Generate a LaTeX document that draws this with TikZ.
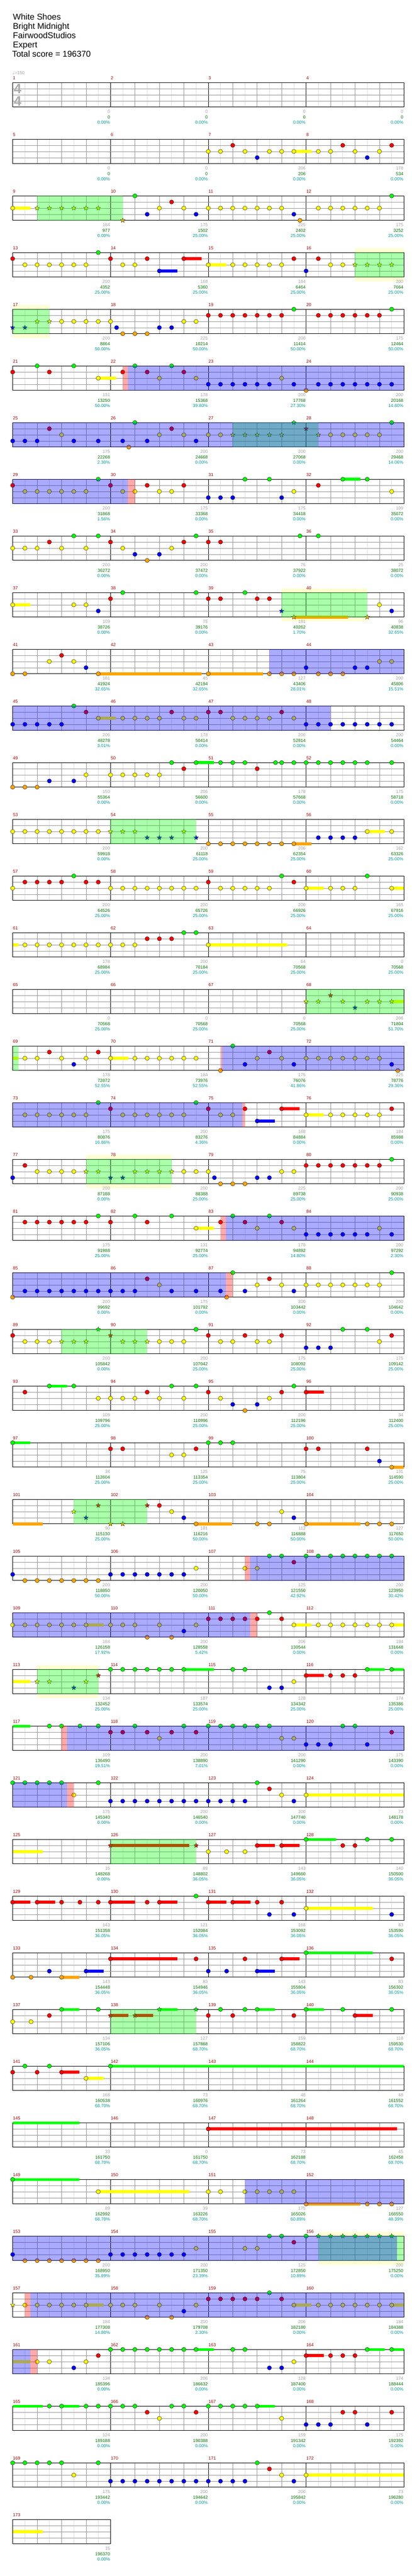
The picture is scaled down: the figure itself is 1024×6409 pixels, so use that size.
\documentclass[tikz,border=0pt]{standalone}
\usepackage{fontspec}
\setmainfont{Liberation Sans}
\newfontfamily\symfont{DejaVu Sans}
\usetikzlibrary{shapes.geometric}

\definecolor{gemG}{RGB}{0,255,0}
\definecolor{gemR}{RGB}{255,0,0}
\definecolor{gemY}{RGB}{255,255,0}
\definecolor{gemB}{RGB}{0,0,255}
\definecolor{gemO}{RGB}{255,165,0}
\colorlet{lane0}{gemG}
\colorlet{lane1}{gemR}
\colorlet{lane2}{gemY}
\colorlet{lane3}{gemB}
\colorlet{lane4}{gemO}
\definecolor{barred}{RGB}{153,0,0}
\definecolor{ptgray}{RGB}{160,160,160}
\definecolor{ptgreen}{RGB}{0,110,0}
\definecolor{ptteal}{RGB}{0,150,150}
\definecolor{gridmid}{RGB}{150,150,150}
\definecolor{gridlight}{RGB}{222,222,222}
\definecolor{paleyellow}{RGB}{255,255,210}

\pgfdeclarelayer{back}
\pgfdeclarelayer{phrase}
\pgfdeclarelayer{spact}
\pgfsetlayers{back,main,phrase,spact}

\tikzset{
  gemnote/.style={circle, draw=black, line width=0.5pt, minimum size=10.5pt, inner sep=0pt},
  gemstar/.style={star, star points=5, star point ratio=2.3, draw=black, line width=0.4pt, minimum size=12pt, inner sep=0pt},
  laneline/.style={gridmid, line width=0.9pt},
  beatline/.style={gridmid, line width=0.8pt},
  halfline/.style={gridlight, line width=0.8pt},
  barline/.style={black, line width=0.8pt},
  staffline/.style={black, line width=1.2pt},
  barnum/.style={text=barred, font=\fontsize{11}{11}\selectfont, inner sep=0pt, anchor=base west},
  ptsbar/.style={text=ptgray, font=\fontsize{11}{11}\selectfont, inner sep=0pt, anchor=base east},
  ptstotal/.style={text=ptgreen, font=\fontsize{11}{11}\selectfont, inner sep=0pt, anchor=base east},
  ptspct/.style={text=ptteal, font=\fontsize{11}{11}\selectfont, inner sep=0pt, anchor=base east},
  titleline/.style={font=\fontsize{21}{21}\selectfont, inner sep=0pt, anchor=base west},
  phrasebox/.style={fill=gemG, fill opacity=0.333},
  activebox/.style={fill=gemB, fill opacity=0.333},
  pinkbox/.style={fill=gemR, fill opacity=0.333},
  paleband/.style={fill=paleyellow}
}

% staff of one row: #1 row, #2 number of measures
\newcommand{\chStaff}[2]{%
  \pgfmathsetmacro\ry{205.3+141*(#1-1)}%
  \pgfmathsetmacro\rx{31.5+243.1*#2}%
  \pgfmathtruncatemacro\nq{8*#2-1}%
  \foreach \p in {1,...,\nq}{%
    \pgfmathtruncatemacro\kind{mod(\p,8)==0 ? 2 : (mod(\p,2)==0 ? 1 : 0)}%
    \ifcase\kind
      \draw[halfline] ({31.5+30.39*\p},\ry) -- ({31.5+30.39*\p},{\ry+61});
    \or
      \draw[beatline] ({31.5+30.39*\p},\ry) -- ({31.5+30.39*\p},{\ry+61});
    \or
      \draw[barline] ({31.5+30.39*\p},\ry) -- ({31.5+30.39*\p},{\ry+61});
    \fi
  }%
  \foreach \l in {1,2,3}{\draw[laneline] (31.5,{\ry+15.25*\l}) -- (\rx,{\ry+15.25*\l});}%
  \draw[staffline] (31.5,\ry) rectangle (\rx,{\ry+61});
  \foreach \m in {1,...,#2}{%
    \pgfmathtruncatemacro\mn{4*(#1-1)+\m}%
    \node[barnum] (bar\mn) at ({31.5+243.1*(\m-1)+0.5},{\ry-7.3}) {\mn};
  }%
}
% plain gems: #1 row, #2 lane, #3 positions in eighths
\newcommand{\chGems}[3]{%
  \pgfmathsetmacro\ry{205.3+141*(#1-1)}%
  \foreach \p in {#3}{%
    \pgfmathtruncatemacro\pp{10*\p}%
    \node[gemnote, fill=lane#2] (g#1-#2-\pp) at ({31.5+30.39*\p},{\ry+15.25*#2}) {};
  }%
}
% star gems
\newcommand{\chStars}[3]{%
  \pgfmathsetmacro\ry{205.3+141*(#1-1)}%
  \foreach \p in {#3}{%
    \pgfmathtruncatemacro\pp{10*\p}%
    \node[gemstar, fill=lane#2] (s#1-#2-\pp) at ({31.5+30.39*\p},{\ry+15.25*#2}) {};
  }%
}
% sustain bars: from/to
\newcommand{\chSus}[3]{%
  \pgfmathsetmacro\ry{205.3+141*(#1-1)}%
  \foreach \a/\b in {#3}{%
    \fill[lane#2] ({31.5+30.39*\a},{\ry+15.25*#2-3.5}) rectangle ({31.5+30.39*\b},{\ry+15.25*#2+3.5});
  }%
}
% star power phrase
\newcommand{\chPhrase}[3]{%
  \pgfmathsetmacro\ry{205.3+141*(#1-1)}%
  \begin{pgfonlayer}{phrase}
    \fill[phrasebox] ({31.5+30.39*#2},\ry) rectangle ({31.5+30.39*#3},{\ry+61});
  \end{pgfonlayer}%
}
\newcommand{\chPhraseY}[3]{%
  \chPhrase{#1}{#2}{#3}%
  \begin{pgfonlayer}{back}
    \fill[paleband] ({31.5+30.39*#2},{\ry-10}) rectangle ({31.5+30.39*#3},\ry);
    \fill[paleband] ({31.5+30.39*#2},{\ry+61}) rectangle ({31.5+30.39*#3},{\ry+71});
  \end{pgfonlayer}%
}
% activation
\newcommand{\chActive}[3]{%
  \pgfmathsetmacro\ry{205.3+141*(#1-1)}%
  \begin{pgfonlayer}{spact}
    \fill[activebox] ({31.5+30.39*#2},\ry) rectangle ({31.5+30.39*#3},{\ry+61});
  \end{pgfonlayer}%
}
\newcommand{\chPink}[3]{%
  \pgfmathsetmacro\ry{205.3+141*(#1-1)}%
  \begin{pgfonlayer}{spact}
    \fill[pinkbox] ({31.5+30.39*#2},\ry) rectangle ({31.5+30.39*#3},{\ry+61});
  \end{pgfonlayer}%
}
% scores under each measure
\newcommand{\chPoints}[2]{%
  \pgfmathsetmacro\ry{205.3+141*(#1-1)}%
  \foreach \a/\b/\c [count=\i] in {#2}{%
    \pgfmathtruncatemacro\mn{4*(#1-1)+\i}%
    \node[ptsbar] (ms\mn) at ({31.5+243.1*\i-1},{\ry+76.4}) {\a};
    \node[ptstotal] (tot\mn) at ({31.5+243.1*\i-1},{\ry+89.7}) {\b};
    \node[ptspct] (pct\mn) at ({31.5+243.1*\i-1},{\ry+103}) {\c\%};
  }%
}

\begin{document}
\begin{tikzpicture}[x=1pt,y=-1pt]
\useasboundingbox (0,0) rectangle (1024,6409);

% header
\node[titleline] (song) at (32,49.3) {White Shoes};
\node[titleline] (artist) at (32,72.3) {Bright Midnight};
\node[titleline] (charter) at (32,95.3) {FairwoodStudios};
\node[titleline] (level) at (32,118.3) {Expert};
\node[titleline] (total) at (30,141.3) {Total score = 196370};
\node[anchor=base west, inner sep=0pt, text=ptgray, font=\fontsize{11}{11}\selectfont] (tempo) at (31,185) {{\symfont ♩}=150};

% Row 1
\chStaff{1}{4}
\node[text=black!33, font=\fontsize{34}{34}\selectfont\bfseries, inner sep=0pt] (tsup) at (44,221) {4};
\node[text=black!33, font=\fontsize{34}{34}\selectfont\bfseries, inner sep=0pt] (tsdown) at (44,252) {4};
\chPoints{1}{0/0/0.00,0/0/0.00,0/0/0.00,0/0/0.00}

% Row 2
\chStaff{2}{4}
\chSus{2}{2}{23/24.43}
\chGems{2}{2}{16,17,19,21,22,23,25,26,28,30}
\chGems{2}{1}{18,27,31}
\chGems{2}{3}{20,29}
\chPoints{2}{0/0/0.00,0/0/0.00,206/206/0.00,178/534/0.00}

% Row 3
\chStaff{3}{4}
\chPhrase{3}{2}{9}
\chSus{3}{2}{0/1.46}
\chGems{3}{2}{0,12,14,16,17,18,19,20,21,22,25,26,27,28,29,30}
\chGems{3}{0}{10,31}
\chGems{3}{1}{13}
\chGems{3}{3}{11,15,23}
\chGems{3}{4}{23.5}
\chStars{3}{2}{2,3,4,5,6,7}
\chStars{3}{4}{9}
\chPoints{3}{184/977/0.00,175/1502/25.00,225/2402/25.00,175/3252/25.00}

% Row 4
\chStaff{4}{4}
\chPhraseY{4}{28}{32}
\chSus{4}{3}{12/13.46}
\chSus{4}{1}{14/15.46}
\chSus{4}{2}{16/17.46}
\chGems{4}{1}{0,8,11,14,23,25}
\chGems{4}{2}{1,2,3,4,5,6,9,10,16,18,19,20,21,22,26,27}
\chGems{4}{0}{7}
\chGems{4}{3}{12,24}
\chStars{4}{2}{28,29,30,31}
\chPoints{4}{200/4352/25.00,168/5360/25.00,184/6464/25.00,200/7664/25.00}

% Row 5
\chStaff{5}{4}
\chPhraseY{5}{0}{3}
\chStars{5}{3}{0,1}
\chStars{5}{2}{2,3}
\chGems{5}{2}{4,5,6,7,8,14,15}
\chGems{5}{3}{8.5,12,13}
\chGems{5}{4}{9,10,11}
\chGems{5}{1}{16,17,18,19,20,21,22,25,26,27,28,29,30}
\chGems{5}{0}{23,31}
\chPoints{5}{200/8864/50.00,225/10214/50.00,200/11414/50.00,175/12464/50.00}

% Row 6
\chStaff{6}{4}
\chPink{6}{9}{9.43}
\chActive{6}{9.43}{32}
\chSus{6}{2}{7/8.46}
\chGems{6}{1}{0,3,9,11,14}
\chGems{6}{0}{2,5,10,13}
\chGems{6}{2}{7,12,15,22}
\chGems{6}{3}{16,17,18,19,20,21,23,25,26,27,28,29,30,31}
\chGems{6}{4}{24}
\chPoints{6}{131/13250/50.00,178/15368/39.80,200/17768/27.30,200/20168/14.80}

% Row 7
\chStaff{7}{4}
\chActive{7}{0}{32}
\chPhrase{7}{18}{25}
\chGems{7}{3}{0,1,2,5,7,9,11,15}
\chGems{7}{1}{3,13}
\chGems{7}{2}{4,12,14,16,17,26,27,28,29,30}
\chGems{7}{4}{9.5}
\chGems{7}{0}{10,31}
\chStars{7}{2}{18,19,20,21,22,25}
\chStars{7}{0}{23}
\chStars{7}{1}{24}
\chPoints{7}{175/22268/2.30,200/24668/0.00,200/27068/0.00,200/29468/14.06}

% Row 8
\chStaff{8}{4}
\chActive{8}{0}{9.43}
\chPink{8}{9.43}{10}
\chSus{8}{0}{27/28.43}
\chGems{8}{1}{0,8,11,14,25}
\chGems{8}{2}{1,2,3,4,5,6,9,10,12,13,23,31}
\chGems{8}{0}{7,19,21,27,29}
\chGems{8}{3}{16,17,18,22}
\chPoints{8}{200/31868/1.56,175/33368/0.00,175/34418/0.00,109/35072/0.00}

% Row 9
\chStaff{9}{4}
\chGems{9}{2}{0,1,2,4,6,9,13}
\chGems{9}{1}{3,8,14,16,17}
\chGems{9}{0}{5,7,15,23.5,25}
\chGems{9}{3}{10,12}
\chGems{9}{4}{11}
\chPoints{9}{200/36272/0.00,200/37472/0.00,75/37922/0.00,25/38072/0.00}

% Row 10
\chStaff{10}{4}
\chPhraseY{10}{22}{29}
\chSus{10}{2}{0/1.46}
\chSus{10}{4}{23/27.43}
\chGems{10}{2}{0,5,6,30}
\chGems{10}{3}{7,31}
\chGems{10}{1}{8,16,17,20,21}
\chGems{10}{0}{9,15,19}
\chStars{10}{3}{22}
\chStars{10}{4}{23,29}
\chPoints{10}{109/38726/0.00,75/39176/0.00,181/40262/1.70,96/40838/32.65}

% Row 11
\chStaff{11}{4}
\chActive{11}{21}{32}
\chSus{11}{4}{7/15.46,16/20.46}
\chGems{11}{4}{0,1,7,16,21,22,23,25,26,27}
\chGems{11}{2}{3,5,30,31}
\chGems{11}{1}{4}
\chGems{11}{3}{6,24,28,29}
\chPoints{11}{181/41924/32.65,45/42194/32.65,127/43406/28.01,200/45806/15.51}

% Row 12
\chStaff{12}{4}
\chActive{12}{0}{26}
\chSus{12}{2}{7/8.46}
\chGems{12}{3}{0,1,2,3,4,24,25,26,27,28,29,30,31}
\chGems{12}{0}{5}
\chGems{12}{1}{6,13,16,17,22}
\chGems{12}{2}{7,9,10,11,12,14,15,18,19,20,21,23}
\chPoints{12}{206/48278/3.01,178/50414/0.00,200/52814/0.00,200/54464/0.00}

% Row 13
\chStaff{13}{4}
\chSus{13}{0}{15/16.46}
\chGems{13}{4}{0,1,2}
\chGems{13}{3}{3,5}
\chGems{13}{2}{6,8,9,10,11,12}
\chGems{13}{0}{13,15,17,18,19,21.5,22,23,24,25,26,27,28,29,31}
\chGems{13}{1}{14,20}
\chPoints{13}{150/55364/0.00,206/56600/0.00,178/57668/0.00,175/58718/0.00}

% Row 14
\chStaff{14}{4}
\chPhrase{14}{8}{15}
\chSus{14}{4}{23/24.43}
\chSus{14}{2}{29/30.43}
\chGems{14}{2}{0,1,2,3,4,5,6,7,29,31}
\chStars{14}{2}{8,9,10,14}
\chStars{14}{3}{11,12,13,15}
\chGems{14}{4}{16,17,18,19,20,21,22,23}
\chGems{14}{3}{25,26,27,28}
\chPoints{14}{200/59918/0.00,200/61118/25.00,206/62354/25.00,162/63326/25.00}

% Row 15
\chStaff{15}{4}
\chSus{15}{2}{24/25.46,31/32}
\chGems{15}{2}{0,8,9,10,11,12,13,14,15,17,18,19,20,21,24,26,27,28,31}
\chGems{15}{1}{1,2,3,4,6,7,16,23}
\chGems{15}{0}{5,22,29}
\chPoints{15}{200/64526/25.00,200/65726/25.00,200/66926/25.00,165/67916/25.00}

% Row 16
\chStaff{16}{4}
\chSus{16}{2}{0/0.48,16/22.46}
\chGems{16}{2}{1,2,3,4,5,6,7,8,9,10,16}
\chGems{16}{1}{11,12,13}
\chGems{16}{0}{14,15}
\chPoints{16}{178/68984/25.00,200/70184/25.00,64/70568/25.00,0/70568/25.00}

% Row 17
\chStaff{17}{4}
\chPhrase{17}{24}{32}
\chSus{17}{2}{31/32}
\chStars{17}{2}{24,25,27,29,30,31}
\chStars{17}{1}{26}
\chStars{17}{3}{28}
\chPoints{17}{0/70568/25.00,0/70568/25.00,0/70568/25.00,206/71804/51.70}

% Row 18
\chStaff{18}{4}
\chPhrase{18}{0}{0.48}
\chPink{18}{17}{17.15}
\chActive{18}{17.15}{32}
\chSus{18}{2}{0/0.48,8/9.46}
\chGems{18}{2}{1,2,4,6,8,10,11,12,13,14,15,20,22,24,25,26,27,28,29,30}
\chGems{18}{1}{3,7,21}
\chGems{18}{3}{5,19,23,31}
\chGems{18}{4}{17,31.5}
\chGems{18}{0}{18}
\chPoints{18}{178/72872/52.55,184/73976/52.55,175/76076/41.86,225/78776/29.36}

% Row 19
\chStaff{19}{4}
\chActive{19}{0}{18.78}
\chPink{19}{18.78}{19}
\chSus{19}{3}{20/21.46}
\chSus{19}{1}{22/23.46}
\chSus{19}{2}{24/25.46}
\chGems{19}{2}{1,2,3,4,5,6,9,10,11,12,13,14,17,18,24,26,27,28,29,30}
\chGems{19}{0}{7,15}
\chGems{19}{1}{8,16,19,22,31}
\chGems{19}{3}{20}
\chPoints{19}{175/80876/16.86,200/83276/4.36,168/84884/0.00,184/85988/0.00}

% Row 20
\chStaff{20}{4}
\chPhraseY{20}{6}{13}
\chGems{20}{3}{0,16.5,20,21}
\chGems{20}{1}{1,24,25,26,27,28,29,30}
\chGems{20}{2}{2,3,4,5,14,15,16,22,23}
\chStars{20}{2}{6,7,10,11,12,13}
\chStars{20}{3}{8,9}
\chGems{20}{4}{17,18,19}
\chGems{20}{0}{31}
\chPoints{20}{200/87188/0.00,200/88388/25.00,225/89738/25.00,200/90938/25.00}

% Row 21
\chStaff{21}{4}
\chPink{21}{17}{17.43}
\chActive{21}{17.43}{32}
\chSus{21}{2}{15/16.46}
\chGems{21}{1}{1,2,3,4,5,6,8,11,17,19,22}
\chGems{21}{0}{7,10,13,18,21}
\chGems{21}{2}{15,20,23,30}
\chGems{21}{3}{24,25,26,27,28,29,31}
\chPoints{21}{175/91988/25.00,131/92774/25.00,178/94892/14.80,200/97292/2.30}

% Row 22
\chStaff{22}{4}
\chActive{22}{0}{17.43}
\chPink{22}{17.43}{18}
\chGems{22}{4}{0,17.5}
\chGems{22}{3}{1,2,3,4,5,6,7,8,9,10,13,15,17,19,23}
\chGems{22}{1}{11,21}
\chGems{22}{2}{12,20,22,24,25,26,27,28,29,30}
\chGems{22}{0}{18,31}
\chPoints{22}{200/99692/0.00,175/101792/0.00,200/103442/0.00,200/104642/0.00}

% Row 23
\chStaff{23}{4}
\chPhrase{23}{4}{11}
\chGems{23}{1}{0,16,19,22,31}
\chGems{23}{2}{1,2,3,12,13,14,17,18,20,21,30}
\chStars{23}{2}{4,5,6,9,10,11}
\chStars{23}{0}{7}
\chStars{23}{1}{8}
\chGems{23}{0}{15,27,29}
\chGems{23}{3}{24,25,26}
\chPoints{23}{200/105842/0.00,200/107042/25.00,175/108092/25.00,175/109142/25.00}

% Row 24
\chStaff{24}{4}
\chSus{24}{0}{3/4.46}
\chSus{24}{1}{24/25.46}
\chGems{24}{1}{1,11,16,22,24}
\chGems{24}{0}{3,5,13,15,23}
\chGems{24}{2}{7,8,9,10,12,14,17,21}
\chGems{24}{3}{18,20}
\chGems{24}{4}{19}
\chPoints{24}{109/109796/25.00,200/110996/25.00,200/112196/25.00,34/112400/25.00}

% Row 25
\chStaff{25}{4}
\chSus{25}{0}{0/1.46}
\chSus{25}{4}{31/32}
\chGems{25}{0}{0,16,17,18}
\chGems{25}{1}{8,9,15,24,25,29}
\chGems{25}{2}{13,14}
\chGems{25}{3}{30}
\chGems{25}{4}{31}
\chPoints{25}{34/112604/25.00,125/113354/25.00,75/113804/25.00,131/114590/25.00}

% Row 26
\chStaff{26}{4}
\chPhrase{26}{5}{11}
\chSus{26}{4}{0/2.46,15/17.93,24/28.43}
\chStars{26}{2}{5}
\chStars{26}{3}{6}
\chStars{26}{1}{7,11}
\chStars{26}{4}{8,9}
\chGems{26}{1}{12}
\chGems{26}{2}{13,22}
\chGems{26}{3}{14,23}
\chGems{26}{4}{15,20,21,24,29,30,31}
\chPoints{26}{90/115130/25.00,181/116216/50.00,112/116888/50.00,127/117650/50.00}

% Row 27
\chStaff{27}{4}
\chPink{27}{19}{19.43}
\chActive{27}{19.43}{32}
\chGems{27}{3}{0,8,9,10,11,12,13,14}
\chGems{27}{4}{1,2,3,4,5,6,7}
\chGems{27}{2}{15,19,20}
\chGems{27}{0}{21,22,24,25,26,27,28,29,30,31}
\chGems{27}{1}{23}
\chPoints{27}{200/118850/50.00,200/120050/50.00,125/121550/42.92,200/123950/30.42}

% Row 28
\chStaff{28}{4}
\chActive{28}{0}{19.43}
\chPink{28}{19.43}{20}
\chSus{28}{2}{6/7.46,23/24.43,31/32}
\chGems{28}{2}{0,1,2,3,4,5,6,8,9,10,12,15,23,25,26,27,28,29,30,31}
\chGems{28}{4}{11,13}
\chGems{28}{3}{14}
\chGems{28}{1}{16,17,18,19,20,22}
\chGems{28}{0}{21}
\chPoints{28}{184/126158/17.92,200/128558/5.42,206/130544/0.00,184/131648/0.00}

% Row 29
\chStaff{29}{4}
\chPhraseY{29}{2}{7}
\chSus{29}{2}{0/1.46}
\chSus{29}{0}{14/16.46,29/30.43,31/32}
\chSus{29}{1}{24/25.46}
\chStars{29}{2}{2,3,6}
\chStars{29}{3}{5}
\chStars{29}{1}{7}
\chGems{29}{0}{8,9,10,11,12,13,14,18,19,29,31}
\chGems{29}{3}{21,22}
\chGems{29}{2}{23}
\chGems{29}{1}{24,26,27,28}
\chPoints{29}{134/132452/25.00,187/133574/25.00,128/134342/25.00,174/135386/25.00}

% Row 30
\chStaff{30}{4}
\chPink{30}{4}{4.46}
\chActive{30}{4.46}{32}
\chSus{30}{0}{0/1.46}
\chGems{30}{0}{3,4,5.5,7,10,14,16,17,18,19,20,21,27,28}
\chGems{30}{1}{8,9,11,13,15,31}
\chGems{30}{2}{12,22,23}
\chGems{30}{3}{24,25,26,29}
\chPoints{30}{109/136490/19.51,200/138890/7.01,200/141290/0.00,175/143390/0.00}

% Row 31
\chStaff{31}{4}
\chActive{31}{0}{4.46}
\chPink{31}{4.46}{5}
\chSus{31}{2}{24/32}
\chGems{31}{0}{0,1,2,3,4,7,20}
\chGems{31}{2}{5,22,24}
\chGems{31}{3}{8,9,10,11,12,13,14,15,16,17,18,19,23}
\chGems{31}{1}{21}
\chPoints{31}{175/145340/0.00,200/146540/0.00,200/147740/0.00,73/148178/0.00}

% Row 32
\chStaff{32}{4}
\chPhrase{32}{8}{15}
\chSus{32}{2}{0/2.46}
\chSus{32}{1}{8/14.46,20/21.46,22/23.46}
\chSus{32}{0}{24/26.46}
\chStars{32}{1}{8,15}
\chGems{32}{2}{16,17.5,19}
\chGems{32}{1}{20,22,27,28}
\chGems{32}{0}{24,29,31}
\chPoints{32}{15/148268/0.00,89/148802/36.05,143/149660/36.05,140/150500/36.05}

% Row 33
\chStaff{33}{4}
\chSus{33}{1}{0/1.46,2/3.46,8/10,12/13.46,16/17.46,18/19.46}
\chSus{33}{2}{24/29.46}
\chGems{33}{1}{0,2,4,5.5,7,8,11,12,16,18,20,22}
\chGems{33}{0}{15}
\chGems{33}{3}{21,23,31}
\chGems{33}{2}{24}
\chPoints{33}{143/151358/36.05,121/152084/36.05,168/153092/36.05,83/153590/36.05}

% Row 34
\chStaff{34}{4}
\chSus{34}{4}{4/5.46}
\chSus{34}{3}{6/7.46,20/21.46}
\chSus{34}{1}{8/13.46,22/23.46}
\chSus{34}{0}{24/29.46}
\chGems{34}{4}{0,1.5,4}
\chGems{34}{3}{3,6,16,17.5,20}
\chGems{34}{1}{8,15,19,22,31}
\chGems{34}{0}{24}
\chPoints{34}{143/154448/36.05,83/154946/36.05,143/155804/36.05,83/156302/36.05}

% Row 35
\chStaff{35}{4}
\chPhrase{35}{8}{15}
\chSus{35}{1}{8/9.48,10/11.48,28/29.46}
\chSus{35}{0}{4/5.46,12/13.46,20/21.46,24/25.46}
\chGems{35}{2}{0,1.5}
\chGems{35}{1}{3,16,18,23,28}
\chGems{35}{0}{4,7,17,19,20,24,27,31}
\chStars{35}{1}{8,10}
\chStars{35}{0}{12,15}
\chPoints{35}{134/157106/36.05,127/157868/68.70,159/158822/68.70,118/159530/68.70}

% Row 36
\chStaff{36}{4}
\chSus{36}{1}{4/5.46}
\chSus{36}{2}{6/7.46}
\chSus{36}{0}{8/32}
\chGems{36}{1}{0,2,4}
\chGems{36}{0}{1,3,8}
\chGems{36}{2}{6}
\chPoints{36}{168/160538/68.70,73/160976/68.70,48/161264/68.70,48/161552/68.70}

% Row 37
\chStaff{37}{4}
\chSus{37}{0}{0/5.46}
\chSus{37}{1}{16/31.43}
\chGems{37}{1}{16}
\chPoints{37}{33/161750/68.70,0/161750/68.70,73/162188/68.70,45/162458/68.70}

% Row 38
\chStaff{38}{4}
\chActive{38}{19}{32}
\chSus{38}{0}{0/5.46}
\chSus{38}{2}{7/14.46}
\chSus{38}{4}{24/28.43}
\chGems{38}{0}{0}
\chGems{38}{2}{7,16,17,19,20,21,22,23}
\chGems{38}{4}{24,29,30,31}
\chPoints{38}{89/162992/68.70,39/163226/68.70,175/165026/60.89,127/166550/48.39}

% Row 39
\chStaff{39}{4}
\chActive{39}{0}{31.43}
\chPhraseY{39}{25}{32}
\chGems{39}{3}{0,8,9,10,11,12,13,14}
\chGems{39}{4}{1,2,3,4,5,6,7}
\chGems{39}{2}{15,19,20}
\chGems{39}{0}{21,22,24}
\chGems{39}{1}{23}
\chStars{39}{0}{25,26,27,28,29,30,31}
\chPoints{39}{200/168950/35.89,200/171350/23.39,125/172850/10.89,200/175250/0.00}

% Row 40
\chStaff{40}{4}
\chPink{40}{1}{1.46}
\chActive{40}{1.46}{32}
\chSus{40}{2}{6/7.46,23/24.43,31/32}
\chStars{40}{2}{0}
\chGems{40}{2}{1,2,3,4,5,6,8,9,10,12,15,23,25,26,27,28,29,30,31}
\chGems{40}{4}{11,13}
\chGems{40}{3}{14}
\chGems{40}{1}{16,17,18,19,20,22}
\chGems{40}{0}{21}
\chPoints{40}{184/177308/14.80,200/179708/2.30,206/182180/0.00,184/184388/0.00}

% Row 41
\chStaff{41}{4}
\chActive{41}{0}{1.46}
\chPink{41}{1.46}{2}
\chSus{41}{2}{0/1.46}
\chSus{41}{1}{24/25.46}
\chSus{41}{0}{15/16.46,29/30.43,31/32}
\chGems{41}{2}{2,3,6,23}
\chGems{41}{3}{5,21,22}
\chGems{41}{1}{7,24,26,27,28}
\chGems{41}{0}{8,9,10,11,12,13,14,15,18,19,29,31}
\chPoints{41}{134/185396/0.00,206/186632/0.00,128/187400/0.00,174/188444/0.00}

% Row 42
\chStaff{42}{4}
\chSus{42}{0}{0/2.46,4/5.46,20/21.46}
\chGems{42}{0}{3,4,6,7,8,9,10,13,14,16,17,18,19,20}
\chGems{42}{1}{11,15,27,28,31}
\chGems{42}{2}{12,22}
\chGems{42}{3}{24,25,26,29}
\chPoints{42}{124/189188/0.00,200/190388/0.00,159/191342/0.00,175/192392/0.00}

% Row 43
\chStaff{43}{4}
\chSus{43}{2}{24/32}
\chGems{43}{0}{0,1,2,3,4,7,20}
\chGems{43}{2}{5,22,24}
\chGems{43}{3}{8,9,10,11,12,13,14,15,16,17,18,19,23}
\chGems{43}{1}{21}
\chPoints{43}{175/193442/0.00,200/194642/0.00,200/195842/0.00,73/196280/0.00}

% Row 44
\chStaff{44}{1}
\chSus{44}{2}{0/2.46}
\chPoints{44}{15/196370/0.00}
\end{tikzpicture}
\end{document}
